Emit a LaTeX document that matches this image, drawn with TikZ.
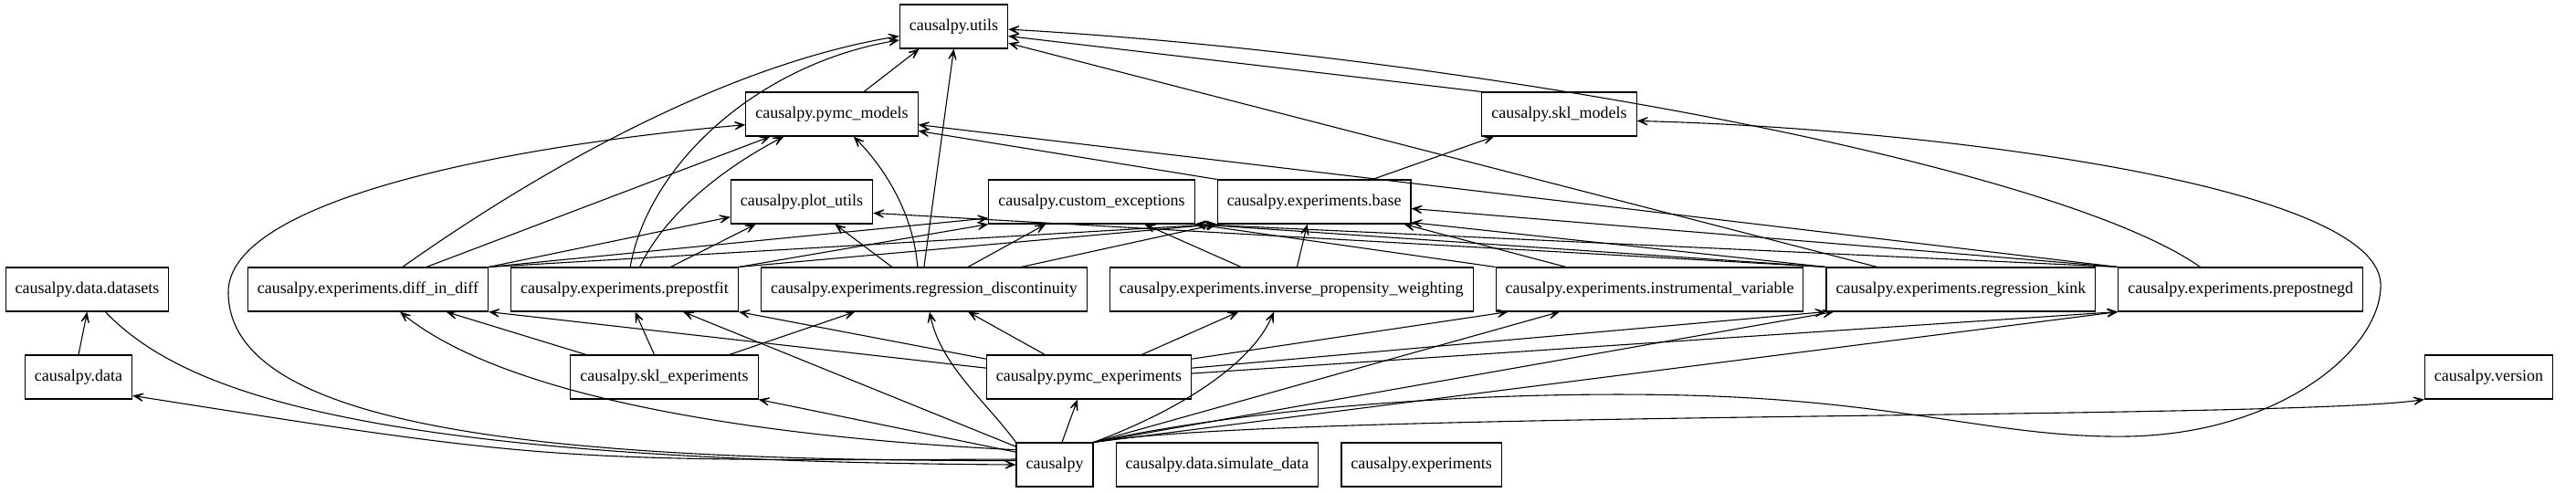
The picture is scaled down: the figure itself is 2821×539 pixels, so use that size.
\documentclass[tikz,border=0pt]{standalone}
\usepackage{fontspec}
\setmainfont{Liberation Serif}
\usepackage{tikz}
\usetikzlibrary{positioning, arrows.meta}

\begin{document}
\begin{tikzpicture}[
      x=1pt, y=-1pt,
      node distance=48pt and 24pt,
      mod/.style={draw, line width=1.1pt, minimum height=48pt, inner xsep=10.5pt, font=\fontsize{18}{22}\selectfont},
      arr/.style={line width=1.1pt, -{Stealth[length=17pt, width=14pt, inset=11pt]}}
    ]
    \useasboundingbox (0,0) rectangle (2821,539);

    \node[mod] (utils) at (1044.5,29) {causalpy.utils};
    \node[mod] (pymodels) at (911,125) {causalpy.pymc\_models};
    \node[mod] (sklmodels) at (1707.5,125) {causalpy.skl\_models};
    \node[mod] (plotutils) at (878,221) {causalpy.plot\_utils};
    \node[mod] (cexc) at (1195.5,221) {causalpy.custom\_exceptions};
    \node[mod, right=of cexc] (base) {causalpy.experiments.base};
    \node[mod] (datasets) at (95.5,317) {causalpy.data.datasets};
    \node[mod] (did) at (403,317) {causalpy.experiments.diff\_in\_diff};
    \node[mod, right=of did] (prepost) {causalpy.experiments.prepostfit};
    \node[mod, right=of prepost] (rdisc) {causalpy.experiments.regression\_discontinuity};
    \node[mod, right=of rdisc] (ipw) {causalpy.experiments.inverse\_propensity\_weighting};
    \node[mod, right=of ipw] (ivar) {causalpy.experiments.instrumental\_variable};
    \node[mod, right=of ivar] (rkink) {causalpy.experiments.regression\_kink};
    \node[mod, right=of rkink] (pnegd) {causalpy.experiments.prepostnegd};
    \node[mod] (data) at (86,413) {causalpy.data};
    \node[mod] (sklexp) at (727.5,413) {causalpy.skl\_experiments};
    \node[mod] (pymcexp) at (1192.5,413) {causalpy.pymc\_experiments};
    \node[mod] (version) at (2725.5,413) {causalpy.version};
    \node[mod] (causalpy) at (1155,509) {causalpy};
    \node[mod, right=of causalpy] (simdata) {causalpy.data.simulate\_data};
    \node[mod, right=of simdata] (experiments) {causalpy.experiments};

    \draw[arr] (causalpy.172) .. controls (600,505) .. (data.-19);
    \draw[arr] (causalpy.162) -- (sklexp.south east);
    \draw[arr] (causalpy.159) .. controls (850,480) and (560,440) .. (did.-35);
    \draw[arr] (causalpy.155) -- (prepost.-21);
    \draw[arr] (causalpy.72) -- (pymcexp.-117);
    \draw[arr] (causalpy.north west) .. controls (1080,440) and (1030,400) .. (rdisc.-76);
    \draw[arr] (causalpy.north east) .. controls (1290,450) and (1370,400) .. (ipw.-128);
    \draw[arr] (causalpy.north east) -- (ivar.-166);
    \draw[arr] (causalpy.north east) -- (rkink.-170);
    \draw[arr] (causalpy.north east) -- (pnegd.south west);
    \draw[arr] (causalpy.north east) .. controls (1400,450) and (2500,460) .. (version.south west);
    \draw[arr] (causalpy.north east) .. controls (1400,440) and (1700,425) .. (1900,435)
      .. controls (2100,445) and (2200,480) .. (2330,478)
      .. controls (2500,475) and (2610,380) .. (2607,310)
      .. controls (2600,200) and (2100,140) .. (sklmodels.-5);
    \draw[arr] (causalpy.174) .. controls (600,505) and (250,470) .. (250,320)
      .. controls (250,220) and (550,160) .. (pymodels.-173);
    \draw[arr] (datasets.-51) .. controls (200,430) and (400,505) .. (causalpy.west);
    \draw[arr] (data.north) -- (datasets.south);

    \draw[arr] (pymcexp.175) -- (did.south east);
    \draw[arr] (pymcexp.170) -- (prepost.south east);
    \draw[arr] (pymcexp.153) -- (rdisc.-27);
    \draw[arr] (pymcexp.23) -- (ipw.-157);
    \draw[arr] (pymcexp.10) -- (ivar.-171);
    \draw[arr] (pymcexp.5) -- (rkink.south west);
    \draw[arr] (pymcexp.2) -- (pnegd.south west);

    \draw[arr] (sklexp.164) -- (did.-16);
    \draw[arr] (sklexp.114) -- (prepost.-65);
    \draw[arr] (sklexp.19) -- (rdisc.-162);

    \draw[arr] (did.33) .. controls (600,180) and (800,70) .. (utils.-170);
    \draw[arr] (did.21) -- (pymodels.-160);
    \draw[arr] (did.north east) -- (plotutils.-168);
    \draw[arr] (did.north east) -- (cexc.-171);
    \draw[arr] (did.north east) -- (base.south west);

    \draw[arr] (prepost.76) .. controls (710,180) and (830,70) .. (utils.-166);
    \draw[arr] (prepost.56) .. controls (730,230) and (800,180) .. (pymodels.-155);
    \draw[arr] (prepost.26) -- (plotutils.-154);
    \draw[arr] (prepost.north east) -- (cexc.south west);
    \draw[arr] (prepost.north east) -- (base.south west);

    \draw[arr] (rdisc.north) -- (utils.south);
    \draw[arr] (rdisc.106) .. controls (1000,230) and (965,180) .. (pymodels.-46);
    \draw[arr] (rdisc.145) -- (plotutils.-34);
    \draw[arr] (rdisc.27) -- (cexc.-154);
    \draw[arr] (rdisc.13) -- (base.south west);

    \draw[arr] (ipw.156) -- (cexc.-23);
    \draw[arr] (ipw.76) -- (base.-107);

    \draw[arr] (ivar.165) -- (base.-14);
    \draw[arr] (ivar.north west) -- (cexc.south east);

    \draw[arr] (rkink.165) -- (utils.-17);
    \draw[arr] (rkink.north west) -- (base.-12);
    \draw[arr] (rkink.north west) -- (cexc.south east);
    \draw[arr] (rkink.north west) -- (plotutils.-9);

    \draw[arr] (pnegd.151) .. controls (2250,180) and (1600,60) .. (utils.-3);
    \draw[arr] (pnegd.north west) -- (pymodels.-7);
    \draw[arr] (pnegd.north west) -- (base.-4);
    \draw[arr] (pnegd.north west) -- (cexc.south east);

    \draw[arr] (base.north west) -- (pymodels.-11);
    \draw[arr] (base.21) -- (sklmodels.-161);
    \draw[arr] (pymodels.35) -- (utils.-147);
    \draw[arr] (sklmodels.north west) -- (utils.-10);
  \end{tikzpicture}
\end{document}
